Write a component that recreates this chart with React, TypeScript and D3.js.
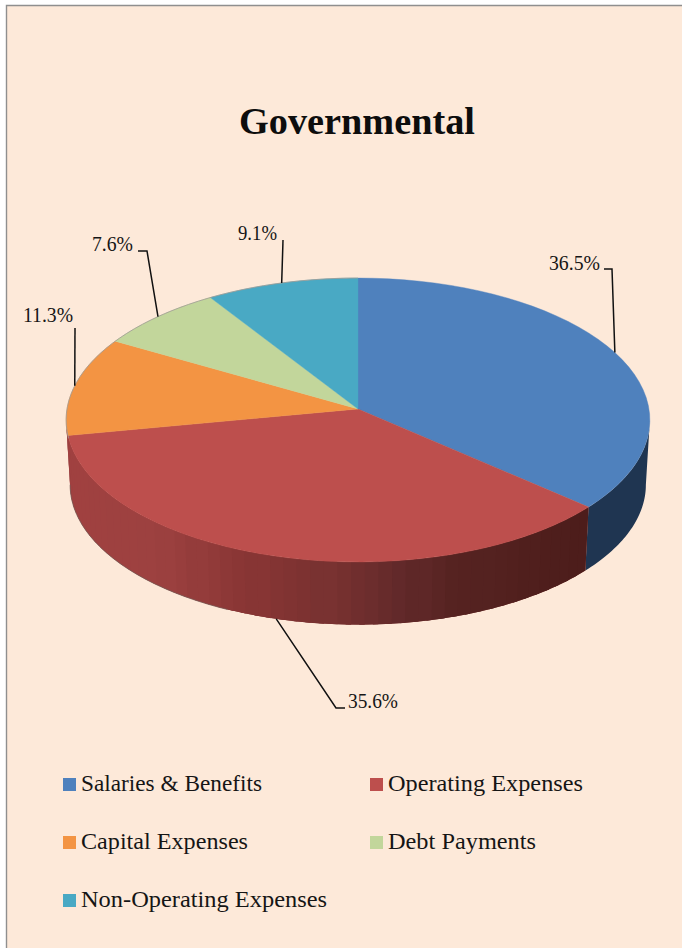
import React from 'react';
import * as d3 from 'd3';

const categories = ['Salaries & Benefits', 'Operating Expenses', 'Capital Expenses', 'Debt Payments', 'Non-Operating Expenses'];
const shares = [36.5, 35.6, 11.3, 7.6, 9.1];
const colors = ['#4f81bd', '#bd4f4d', '#f39443', '#c2d69b', '#49a9c4'];
const shareLabels = ['36.5%', '35.6%', '11.3%', '7.6%', '9.1%'];

const sideStops = [66, 150, 250, 330, 400, 450, 590];
const sideShades = ['#a04140', '#9d4140', '#883534', '#773130', '#62292a', '#562321', '#4c1c1a'];

// projective mapping, the pie lies on a tilted plane so the apex is above the ellipse centre
const tilt = -0.0775;
const project = (angle: number, top: boolean): [number, number] => {
    const u = Math.sin(angle);
    const v = -Math.cos(angle);
    const w = 1 + tilt * v;
    const rx = top ? 291 : 287;
    const ry = top ? 141.1 : 139;
    const y0 = top ? 409 : 474;
    return [358 + (rx * u) / w, y0 + (ry * v) / w];
};

const line = d3.line();
const rad = (deg: number) => (deg * Math.PI) / 180;

const rimPoints = (a0: number, a1: number, top: boolean) =>
    d3.range(0, 41).map(i => project(a0 + ((a1 - a0) * i) / 40, top));

const App = () => {
    const pie = d3.pie<number>().sort(null)(shares);
    const shade = d3.scaleLinear<string>().domain(sideStops).range(sideShades);

    // top face
    const faces = pie.map((d, i) => {
        const pts = rimPoints(d.startAngle, d.endAngle, true);
        return <path key={i} d={line([[358, 409], ...pts])! + 'Z'} fill={colors[i]} stroke={colors[i]} strokeWidth={0.4} />;
    });

    // wall of the blue slice, flat dark colour, starts where the rim is widest
    const blueEnd = pie[0].endAngle;
    const blueWall = [...rimPoints(rad(94.4), blueEnd, true), ...rimPoints(rad(94.4), blueEnd, false).reverse()];

    // wall of the red slice goes round to the left tangent of the rim
    const redStart = pie[1].startAngle;
    const redEnd = rad(265.6);
    const redWall = [...rimPoints(redStart, redEnd, true), ...rimPoints(redStart, redEnd, false).reverse()];

    // cut in bands to get the stepped shading, each band overlaps the next
    const step = rad(2.5);
    const bands = d3.range(redStart, redEnd, step).map((a, i) => {
        const b = Math.min(a + step * 1.4, redEnd);
        const t0 = project(a, true);
        const t1 = project(b, true);
        const b0 = project(a, false);
        const b1 = project(b, false);
        const mid = (t0[0] + t1[0]) / 2;
        return <path key={i} d={line([t0, t1, b1, b0])! + 'Z'} fill={shade(Math.round(mid / 16) * 16)} />;
    });

    // leader lines start at the middle of each slice
    const elbows: [number, number][][] = [
        [[612, 269], [604, 269]],
        [[336, 708], [345, 708]],
        [[75, 328]],
        [[147, 251], [138, 251]],
        [[283, 240]],
    ];
    const leaders = pie.map((d, i) => {
        const mid = (d.startAngle + d.endAngle) / 2;
        const start = project(mid, i !== 1);
        return <path key={i} d={line([start, ...elbows[i]])!} fill="none" stroke="#111" strokeWidth={1.5} />;
    });

    const labelPos = [
        { x: 549, y: 270, w: 51 },
        { x: 348, y: 708, w: 50 },
        { x: 23, y: 322, w: 50 },
        { x: 92, y: 251, w: 41 },
        { x: 238, y: 240, w: 39 },
    ];

    const legendPos = [
        { x: 63, y: 778, w: 181 },
        { x: 370, y: 778, w: 195 },
        { x: 63, y: 836, w: 167 },
        { x: 370, y: 836, w: 148 },
        { x: 63, y: 894, w: 246 },
    ];

    const font = '"Liberation Serif", serif';

    return (
        <svg width={682} height={948} style={{ position: 'absolute', left: 0, top: 0, display: 'block' }}>
            <rect x={0} y={0} width={682} height={948} fill="#fff" />
            <rect x={6} y={5} width={676} height={943} fill="#fde9d9" />
            <path d="M6.5,948V5.5H682" fill="none" stroke="#8f8f8f" strokeWidth={1.4} />

            <text x={239} y={134} fontFamily={font} fontWeight="bold" fontSize={37} fill="#0d0d0d"
                textLength={236} lengthAdjust="spacingAndGlyphs">Governmental</text>

            <path d={line(blueWall)! + 'Z'} fill="#1f3551" />
            <path d={line(redWall)! + 'Z'} fill="#7a3231" />
            {bands}
            <path d={line(rimPoints(rad(205), redEnd, false))!} fill="none" stroke="#7a5a55" strokeWidth={0.8} />
            {faces}
            <path d={line(rimPoints(pie[2].startAngle - 0.02, pie[4].endAngle, true))!} fill="none" stroke="#9e9a94" strokeWidth={0.8} />
            {leaders}

            {shareLabels.map((t, i) => (
                <text key={t} x={labelPos[i].x} y={labelPos[i].y} fontFamily={font} fontSize={20} fill="#151515"
                    textLength={labelPos[i].w} lengthAdjust="spacingAndGlyphs">{t}</text>
            ))}

            {categories.map((c, i) => (
                <g key={c}>
                    <rect x={legendPos[i].x} y={legendPos[i].y} width={13} height={13} fill={colors[i]} />
                    <text x={legendPos[i].x + 18} y={legendPos[i].y + 13} fontFamily={font} fontSize={22.5} fill="#151515"
                        textLength={legendPos[i].w} lengthAdjust="spacingAndGlyphs">{c}</text>
                </g>
            ))}
        </svg>
    );
};

export default App;
